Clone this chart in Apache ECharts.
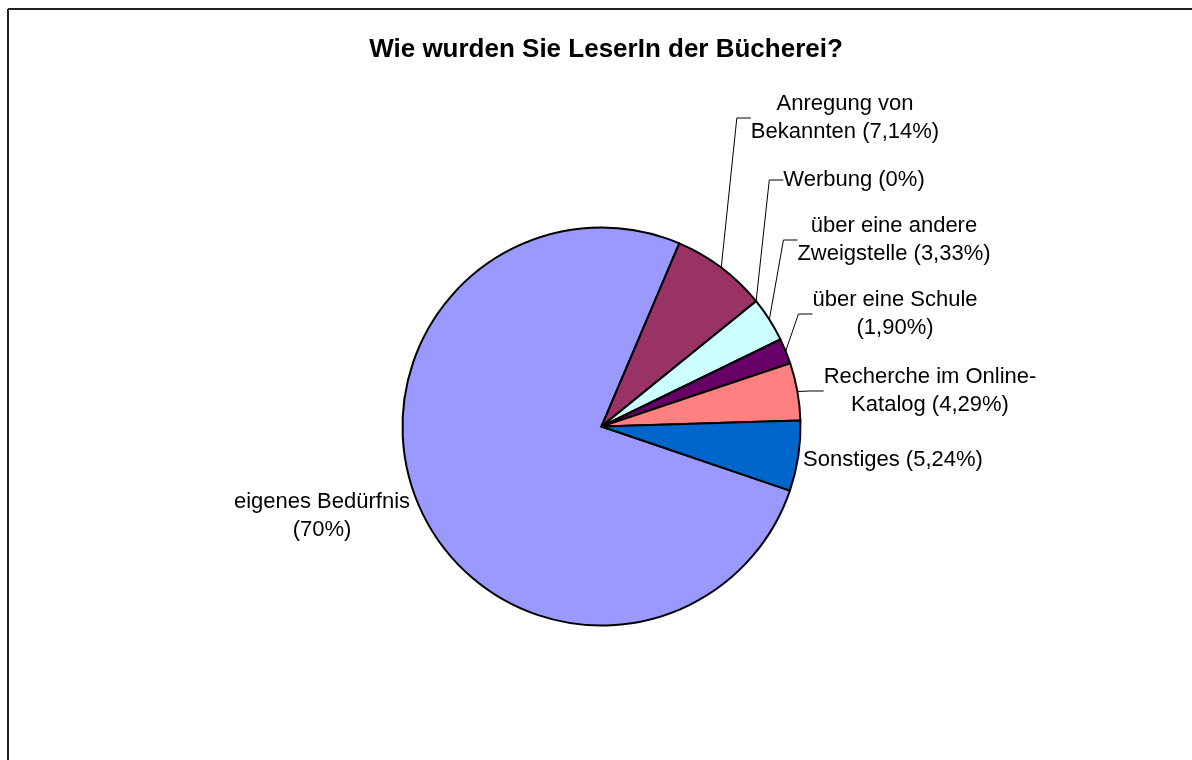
<!DOCTYPE html>
<html>
<head>
<meta charset="utf-8">
<script src="https://cdn.jsdelivr.net/npm/echarts@6/dist/echarts.min.js"></script>
<style>
html, body { margin: 0; padding: 0; background: #fff; }
#chart { width: 1192px; height: 760px; }
</style>
</head>
<body>
<div id="chart"></div>
<script>
var categories = ['eigenes Bedürfnis', 'Anregung von\nBekannten', 'Werbung', 'über eine andere\nZweigstelle', 'über eine Schule', 'Recherche im Online-\nKatalog', 'Sonstiges'];
var values = [70, 7.14, 0, 3.33, 1.90, 4.29, 5.24];
var colors = ['#9999FF', '#993366', '#FFFFCC', '#CCFFFF', '#660066', '#FF8080', '#0066CC'];
// where the percentage goes: same line or next line
var pctBreak = [true, false, false, false, true, false, false];
var showLine = [false, true, true, true, true, true, false];
// label centres, as the labels were dragged in the original
var labelPos = [[322, 516], [845, 118], [854, 180], [894, 240], [895, 314], [930, 391], [893, 460]];

function fmt(v) {
	if (Math.round(v) === v) return String(v);
	return v.toFixed(2).replace('.', ',');
}

var data = categories.map(function (c, i) {
	return {
		name: c,
		value: values[i],
		labelLine: { show: showLine[i] }
	};
});

var chart = echarts.init(document.getElementById('chart'));
chart.setOption({
	backgroundColor: '#fff',
	color: colors,
	animation: false,
	title: {
		text: 'Wie wurden Sie LeserIn der Bücherei?',
		left: 601,
		top: 32,
		textAlign: 'center',
		textStyle: { fontFamily: 'Liberation Sans', fontSize: 26, fontWeight: 'bold', color: '#000' }
	},
	graphic: [
		{ type: 'line', shape: { x1: 8, y1: 9, x2: 1192, y2: 9 }, style: { stroke: '#222', lineWidth: 2 } },
		{ type: 'line', shape: { x1: 8, y1: 9, x2: 8, y2: 760 }, style: { stroke: '#222', lineWidth: 2 } }
	],
	series: [{
		type: 'pie',
		center: [601.5, 426.5],
		radius: 199,
		startAngle: -18.8,
		clockwise: true,
		avoidLabelOverlap: false,
		data: data,
		itemStyle: { borderColor: '#000', borderWidth: 2 },
		label: {
			show: true,
			position: 'outside',
			fontFamily: 'Liberation Sans',
			fontSize: 22,
			lineHeight: 28,
			color: '#000',
			align: 'center',
			formatter: function (p) {
				return p.name + (pctBreak[p.dataIndex] ? '\n' : ' ') + '(' + fmt(p.value) + '%)';
			}
		},
		labelLine: {
			show: true,
			length: 10,
			length2: 14,
			lineStyle: { color: '#000', width: 1 }
		},
		labelLayout: function (params) {
			var p = labelPos[params.dataIndex];
			return {
				x: p[0],
				y: p[1],
				align: 'center',
				verticalAlign: 'middle'
			};
		},
		emphasis: { disabled: true }
	}]
});
</script>
</body>
</html>
